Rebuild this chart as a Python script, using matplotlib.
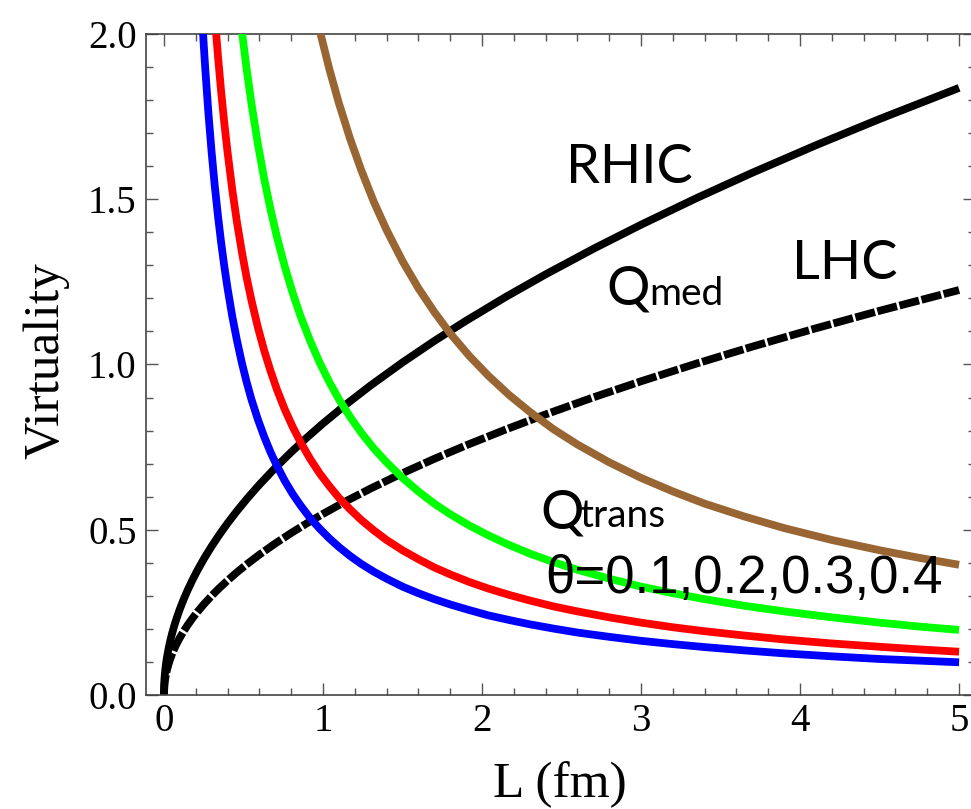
import matplotlib
matplotlib.use("Agg")
import matplotlib.pyplot as plt
from matplotlib.ticker import MultipleLocator, FormatStrFormatter

# medium scale Q_med = sqrt(qhat L) against L (fm)
L_med = [0, 0.003, 0.006, 0.01, 0.015, 0.02, 0.03, 0.04, 0.05, 0.065, 0.08, 0.1,
         0.125, 0.15, 0.18, 0.21, 0.25, 0.3, 0.35, 0.4, 0.46, 0.53, 0.6, 0.7, 0.8,
         0.9, 1.0, 1.15, 1.3, 1.5, 1.7, 1.9, 2.15, 2.4, 2.7, 3.0, 3.35, 3.7, 4.1,
         4.5, 5.0]
rhic = [0, 0.0450, 0.0636, 0.0822, 0.1006, 0.1162, 0.1423, 0.1643, 0.1837, 0.2094,
        0.2324, 0.2598, 0.2904, 0.3182, 0.3485, 0.3765, 0.4108, 0.4500, 0.4860,
        0.5196, 0.5572, 0.5981, 0.6363, 0.6873, 0.7348, 0.7793, 0.8215, 0.8810,
        0.9367, 1.0061, 1.0711, 1.1324, 1.2046, 1.2727, 1.3499, 1.4229, 1.5036,
        1.5802, 1.6634, 1.7427, 1.8369]
lhc = [0, 0.0300, 0.0424, 0.0548, 0.0671, 0.0775, 0.0949, 0.1096, 0.1225, 0.1397,
       0.1550, 0.1733, 0.1937, 0.2122, 0.2325, 0.2511, 0.2740, 0.3002, 0.3242,
       0.3466, 0.3717, 0.3989, 0.4245, 0.4585, 0.4901, 0.5199, 0.5480, 0.5877,
       0.6248, 0.6712, 0.7145, 0.7554, 0.8035, 0.8490, 0.9005, 0.9492, 1.0030,
       1.0541, 1.1096, 1.1625, 1.2253]

# transverse scale Q_trans for theta = 0.1, 0.2, 0.3, 0.4
L_trans = [0.24, 0.25, 0.26, 0.28, 0.30, 0.32, 0.34, 0.36, 0.38, 0.40, 0.43, 0.46,
           0.49, 0.52, 0.55, 0.59, 0.63, 0.67, 0.71, 0.76, 0.81, 0.86, 0.92, 0.98,
           1.04, 1.10, 1.17, 1.24, 1.32, 1.40, 1.50, 1.60, 1.70, 1.80, 1.92, 2.04,
           2.17, 2.30, 2.45, 2.60, 2.80, 3.00, 3.20, 3.40, 3.65, 3.90, 4.20, 4.50,
           4.75, 5.00]
q_th01 = [8.208, 7.880, 7.577, 7.036, 6.567, 6.156, 5.794, 5.472, 5.184, 4.925,
          4.581, 4.283, 4.020, 3.788, 3.582, 3.339, 3.127, 2.940, 2.775, 2.592,
          2.432, 2.291, 2.141, 2.010, 1.894, 1.791, 1.684, 1.589, 1.492, 1.407,
          1.313, 1.231, 1.159, 1.094, 1.026, 0.966, 0.908, 0.857, 0.804, 0.758,
          0.704, 0.657, 0.616, 0.579, 0.540, 0.505, 0.469, 0.438, 0.415, 0.394]
q_th02 = [4.104, 3.940, 3.788, 3.518, 3.283, 3.078, 2.897, 2.736, 2.592, 2.463,
          2.291, 2.141, 2.010, 1.894, 1.791, 1.669, 1.563, 1.470, 1.387, 1.296,
          1.216, 1.145, 1.071, 1.005, 0.947, 0.895, 0.842, 0.794, 0.746, 0.704,
          0.657, 0.616, 0.579, 0.547, 0.513, 0.483, 0.454, 0.428, 0.402, 0.379,
          0.352, 0.328, 0.308, 0.290, 0.270, 0.253, 0.235, 0.219, 0.207, 0.197]
q_th03 = [2.738, 2.628, 2.527, 2.346, 2.190, 2.053, 1.932, 1.825, 1.729, 1.643,
          1.528, 1.428, 1.341, 1.263, 1.195, 1.114, 1.043, 0.981, 0.925, 0.864,
          0.811, 0.764, 0.714, 0.670, 0.632, 0.597, 0.562, 0.530, 0.498, 0.469,
          0.438, 0.411, 0.386, 0.365, 0.342, 0.322, 0.303, 0.286, 0.268, 0.253,
          0.235, 0.219, 0.205, 0.193, 0.180, 0.168, 0.156, 0.146, 0.138, 0.131]
q_th04 = [2.052, 1.970, 1.894, 1.759, 1.642, 1.539, 1.449, 1.368, 1.296, 1.231,
          1.145, 1.071, 1.005, 0.947, 0.895, 0.835, 0.782, 0.735, 0.694, 0.648,
          0.608, 0.573, 0.535, 0.503, 0.474, 0.448, 0.421, 0.397, 0.373, 0.352,
          0.328, 0.308, 0.290, 0.274, 0.257, 0.241, 0.227, 0.214, 0.201, 0.189,
          0.176, 0.164, 0.154, 0.145, 0.135, 0.126, 0.117, 0.109, 0.104, 0.099]

theta_colors = ["#996633", "#00ff00", "#ff0000", "#0000ff"]

fig = plt.figure(figsize=(9.71, 8.09), dpi=100)
ax = fig.add_axes([0.1508, 0.1409, 0.8533, 0.8171])

lw = 5.6
ax.plot(L_med, rhic, color="black", lw=lw, solid_joinstyle="round",
        solid_capstyle="butt", zorder=2)
ax.plot(L_med, lhc, color="black", lw=lw, linestyle=(0, (2.6, 0.33)),
        dash_capstyle="butt", dash_joinstyle="round", zorder=2)
for q, c in zip([q_th01, q_th02, q_th03, q_th04], theta_colors):
    ax.plot(L_trans, q, color=c, lw=lw, solid_joinstyle="round",
            solid_capstyle="butt", zorder=3)

ax.set_xlim(-0.11, 5.10)
ax.set_ylim(0, 2.0)

ax.xaxis.set_major_locator(MultipleLocator(1))
ax.xaxis.set_minor_locator(MultipleLocator(0.2))
ax.yaxis.set_major_locator(MultipleLocator(0.5))
ax.yaxis.set_minor_locator(MultipleLocator(0.1))
ax.yaxis.set_major_formatter(FormatStrFormatter("%.1f"))

ax.tick_params(which="both", direction="in", top=True, right=True,
               color="#555555", width=1.0)
ax.tick_params(which="major", length=8.5)
ax.tick_params(which="minor", length=5)
ax.tick_params(axis="x", which="major", pad=6)
ax.tick_params(axis="y", which="major", pad=7)
for lab in ax.get_xticklabels() + ax.get_yticklabels():
    lab.set_fontfamily("Liberation Serif")
    lab.set_fontsize(28)
for sp in ax.spines.values():
    sp.set_color("#444444")
    sp.set_linewidth(1.2)

fig.text(0.0474, 0.5538, "Virtuality", rotation=90, ha="center", va="center",
         family="Liberation Serif", fontsize=37)
fig.text(0.5767, 1 - 797 / 809, "L (fm)", ha="center", va="baseline",
         family="Liberation Serif", fontsize=37)

big = dict(family="Lato", fontsize=39, va="baseline", ha="left", zorder=5)
small = dict(family="Lato", fontsize=28, va="baseline", ha="left", zorder=5)
ax.text(2.53, 1.549, "RHIC", **big)
ax.text(3.95, 1.259, "LHC", **big)
ax.text(2.78, 1.183, "Q", **big)
ax.text(3.05, 1.180, "med", **small)
ax.text(2.37, 0.505, "Q", **big)
ax.text(2.61, 0.508, "trans", **small)
ax.text(2.40, 0.309, "θ=0.1,0.2,0.3,0.4", family="Liberation Sans", fontsize=38,
        va="baseline", ha="left", zorder=5)

fig.savefig("out.png", dpi=100)
